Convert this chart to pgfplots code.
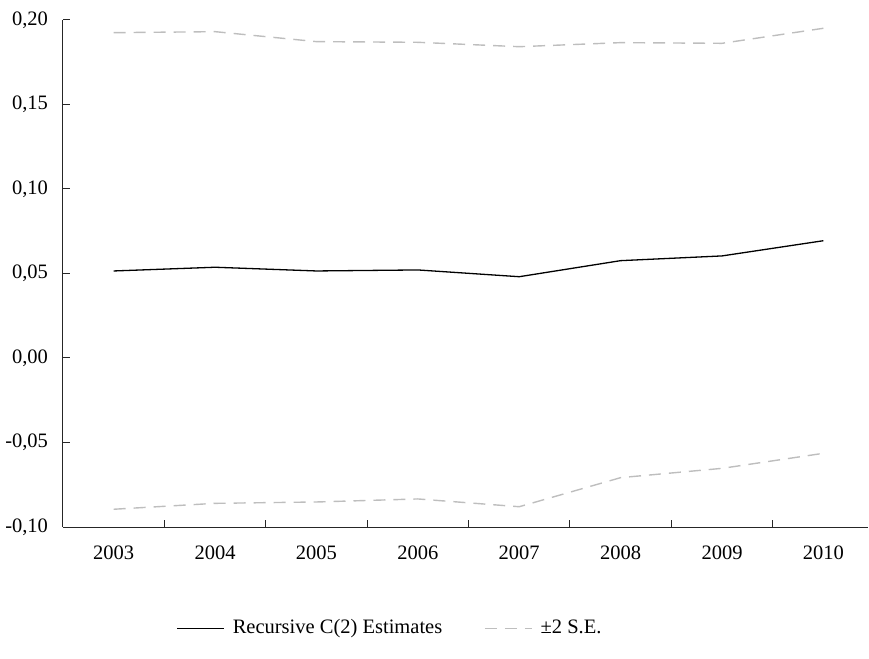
\documentclass[border=0pt]{standalone}
\usepackage{pgfplots}
\pgfplotsset{compat=1.18}
\usepackage{fontspec}
\setmainfont{Liberation Serif}

\definecolor{seband}{RGB}{190,190,190}

\begin{document}
\fontsize{20.5}{24}\selectfont
\begin{tikzpicture}[x=1pt,y=1pt]
\useasboundingbox (-63,-131) rectangle (806,527);
\begin{axis}[
  at={(0,0)}, anchor=south west,
  scale only axis,
  width=805pt, height=507pt,
  xmin=-0.5, xmax=7.44,
  ymin=-0.10, ymax=0.20,
  axis x line*=bottom,
  axis y line*=left,
  axis line style={line width=1pt, black!85},
  xtick={0,1,2,3,4,5,6,7},
  xticklabels={2003,2004,2005,2006,2007,2008,2009,2010},
  minor xtick={0.5,1.5,2.5,3.5,4.5,5.5,6.5},
  major x tick style={draw=none},
  minor x tick style={line width=1pt, black!85},
  minor tick length=7pt,
  ytick={-0.10,-0.05,0,0.05,0.10,0.15,0.20},
  yticklabels={{-0,10},{-0,05},{0,00},{0,05},{0,10},{0,15},{0,20}},
  major y tick style={line width=1pt, black!85},
  major tick length=7pt,
  tick align=inside,
  xticklabel style={yshift=-12pt},
  yticklabel style={xshift=-8pt},
  legend columns=2,
  legend style={at={(0.137,-0.2)}, anchor=west, draw=none, fill=none,
    font=\fontsize{20.5}{24}\selectfont,
    /tikz/every even column/.append style={column sep=40pt}},
  legend cell align=left,
  legend image code/.code={\draw[#1] (0pt,0pt) -- (47pt,0pt); \path (53pt,0pt);},
]
% recursive coefficient estimate
\addplot[black, line width=1.3pt] coordinates {
  (0,0.0515) (1,0.0537) (2,0.0515) (3,0.0521)
  (4,0.0481) (5,0.0576) (6,0.0604) (7,0.0694)
};
\addlegendentry{Recursive C(2) Estimates}
% upper band
\addplot[seband, line width=1.4pt, dash pattern=on 12pt off 8pt] coordinates {
  (0,0.1925) (1,0.1931) (2,0.1872) (3,0.1868)
  (4,0.1842) (5,0.1866) (6,0.1862) (7,0.1951)
};
\addlegendentry{±2 S.E.}
% lower band
\addplot[seband, line width=1.4pt, dash pattern=on 12pt off 8pt, forget plot] coordinates {
  (0,-0.0895) (1,-0.0860) (2,-0.0852) (3,-0.0834)
  (4,-0.0880) (5,-0.0708) (6,-0.0653) (7,-0.0564)
};
\end{axis}
\end{tikzpicture}
\end{document}
